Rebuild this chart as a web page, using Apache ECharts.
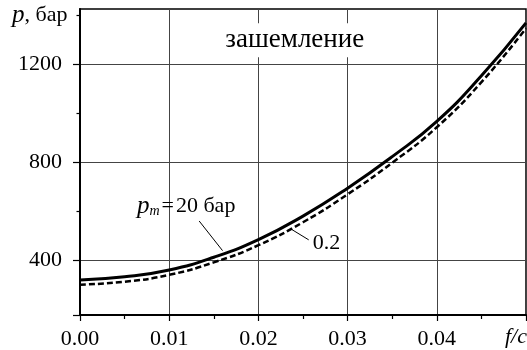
<!DOCTYPE html>
<html><head><meta charset="utf-8">
<script src="https://cdn.jsdelivr.net/npm/echarts@6/dist/echarts.min.js"></script>
<style>html,body{margin:0;padding:0;background:#fff}#c{width:527px;height:350px}</style>
</head><body><div id="c"></div>
<script>
// ---- data ----
const xValues      = [0, 0.005, 0.01, 0.015, 0.02, 0.025, 0.03, 0.035, 0.04, 0.045, 0.05];
const solidValues  = [318, 331, 359, 411, 483, 579, 693, 822, 966, 1152, 1368];   // p_m = 20 бар
const dashedValues = [299, 311, 339, 390, 460, 554, 668, 797, 942, 1126, 1346];   // p_m = 0.2 бар
const xTickValues  = [0, 0.01, 0.02, 0.03, 0.04];
const yTickValues  = [400, 800, 1200];
const yMinorValues = [600, 1000, 1400];
const titleText    = 'зашемление';
const yAxisTitle   = ['p', ', бар'];
const xAxisTitle   = 'f/c';
const seriesNames  = ['20 бар', '0.2'];

const FONT = '"Liberation Serif", "DejaVu Serif", serif';
const chart = echarts.init(document.getElementById('c'), null, {renderer: 'canvas'});

const xMin = 0, xMax = 0.05, yMin = 175, yMax = 1425;

chart.setOption({
  animation: false,
  backgroundColor: '#fff',
  grid: {left: 80, right: 1, top: 9, bottom: 35, show: true, borderColor: '#000', borderWidth: 1.5, backgroundColor: 'transparent'},
  xAxis: {
    type: 'value', min: xMin, max: xMax, interval: 0.01,
    axisLine: {show: true, onZero: false, lineStyle: {color: '#000', width: 2}},
    axisTick: {show: true, length: 6, lineStyle: {color: '#000', width: 1.2}},
    minorTick: {show: true, splitNumber: 2, length: 4, lineStyle: {color: '#000', width: 1.2}},
    splitLine: {show: true, lineStyle: {color: '#444', width: 1}},
    axisLabel: {
      customValues: xTickValues, margin: 13, color: '#000', fontFamily: FONT, fontSize: 22,
      formatter: v => v.toFixed(2)
    }
  },
  yAxis: [{
    type: 'value', min: yMin, max: yMax,
    axisLine: {show: true, onZero: false, lineStyle: {color: '#000', width: 2}},
    axisTick: {show: true, customValues: [yMin].concat(yTickValues), length: 7, lineStyle: {color: '#000', width: 1.2}},
    splitLine: {show: true, lineStyle: {color: '#444', width: 1}},
    axisLabel: {customValues: yTickValues, margin: 18, color: '#000', fontFamily: FONT, fontSize: 22, formatter: v => String(v)}
  }, {
    type: 'value', min: yMin, max: yMax, position: 'left',
    axisLine: {show: false},
    axisTick: {show: true, customValues: yMinorValues, length: 3.5, lineStyle: {color: '#000', width: 1.2}},
    splitLine: {show: false},
    axisLabel: {show: false}
  }],
  series: [{
    name: seriesNames[0], type: 'line', smooth: 0.5, showSymbol: false, yAxisIndex: 0, z: 3,
    lineStyle: {color: '#000', width: 3},
    data: xValues.map((x, i) => [x, solidValues[i]])
  }, {
    name: seriesNames[1], type: 'line', smooth: 0.5, showSymbol: false, yAxisIndex: 0, z: 3,
    lineStyle: {color: '#000', width: 2.5, type: [6, 3]},
    data: xValues.map((x, i) => [x, dashedValues[i]])
  }]
});

// annotations (anchored in data coordinates)
const px = (x, y) => chart.convertToPixel({gridIndex: 0}, [x, y]);
const tPos = px(0.02408, 1297);
const l1a = px(0.01336, 559), l1b = px(0.01598, 438);
const l2a = px(0.02371, 525), l2b = px(0.02564, 482);
const lab1 = px(0.00638, 620);
const lab2 = px(0.02609, 469);

chart.setOption({
  graphic: [
    {type: 'rect', shape: {x: tPos[0] - 80, y: tPos[1] - 17, width: 160, height: 34}, style: {fill: '#fff'}, z: 10},
    {type: 'text', x: tPos[0], y: tPos[1], z: 11, style: {text: titleText, fill: '#000', font: '27px ' + FONT, align: 'center', verticalAlign: 'middle'}},
    {type: 'line', shape: {x1: l1a[0], y1: l1a[1], x2: l1b[0], y2: l1b[1]}, style: {stroke: '#000', lineWidth: 1}, z: 11},
    {type: 'line', shape: {x1: l2a[0], y1: l2a[1], x2: l2b[0], y2: l2b[1]}, style: {stroke: '#000', lineWidth: 1}, z: 11},
    {type: 'text', x: lab1[0], y: lab1[1], z: 11, style: {
      text: '{p|p}{m|m}{e|=}{t|20 бар}', align: 'left', verticalAlign: 'middle',
      rich: {
        p: {font: 'italic 25px ' + FONT, fill: '#000'},
        m: {font: 'italic 14px ' + FONT, fill: '#000', verticalAlign: 'bottom', padding: [10, 0, 0, 0]},
        e: {font: '22px ' + FONT, fill: '#000', padding: [0, 2, 0, 2]},
        t: {font: '22px ' + FONT, fill: '#000'}
      }}},
    {type: 'text', x: lab2[0], y: lab2[1], z: 11, style: {text: seriesNames[1], fill: '#000', font: '22px ' + FONT, align: 'left', verticalAlign: 'middle'}},
    {type: 'text', x: 12, y: 15, z: 11, style: {
      text: '{p|' + yAxisTitle[0] + '}{t|' + yAxisTitle[1] + '}', align: 'left', verticalAlign: 'middle',
      rich: {p: {font: 'italic 25px ' + FONT, fill: '#000'}, t: {font: '22px ' + FONT, fill: '#000'}}}},
    {type: 'text', x: 527, y: 337, z: 11, style: {text: xAxisTitle, fill: '#000', font: 'italic 22px ' + FONT, align: 'right', verticalAlign: 'middle'}}
  ]
});
</script></body></html>
